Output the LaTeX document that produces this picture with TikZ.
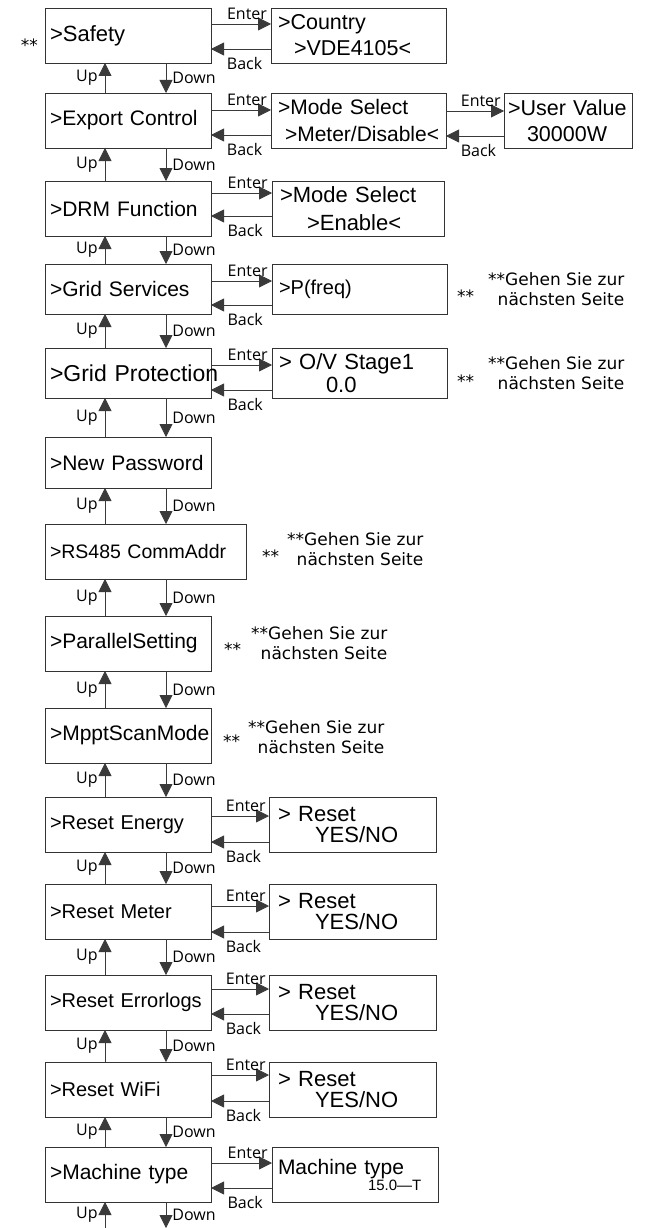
\documentclass[tikz,border=0pt]{standalone}
\usepackage{fontspec}
\setmainfont{Liberation Sans}
\newfontfamily\keyfont{Open Sans}
\newfontfamily\hintfont{DejaVu Sans}
\usetikzlibrary{arrows.meta,positioning}
\definecolor{MenuLine}{HTML}{333333}
\definecolor{KeyLine}{HTML}{3A3A3A}
\hyphenpenalty=10000
\exhyphenpenalty=10000

\begin{document}
\begin{tikzpicture}[x=1pt,y=1pt]
    \tikzset{menu/.style={draw=MenuLine,line width=0.9pt,outer sep=0pt,text width=156pt,inner xsep=5pt,
      minimum height=55pt,align=left,font=\fontsize{21}{25}\selectfont},
      submenu/.style={draw=MenuLine,line width=0.9pt,outer sep=0pt,text width=161pt,inner xsep=7pt,
      minimum height=55pt,align=left,font=\fontsize{22}{26}\selectfont},
      resetbox/.style={submenu,text width=149pt,inner xsep=9pt,font=\fontsize{22}{21}\selectfont},
      key/.style={draw=KeyLine,line width=0.8pt,-{Triangle[length=13pt,width=13pt]}},
      keytext/.style={font=\keyfont\fontsize{16}{18}\selectfont,inner sep=1pt},
      star/.style={font=\hintfont\fontsize{17}{20}\selectfont,inner sep=0pt},
      hint/.style={font=\hintfont\fontsize{17}{20}\selectfont,inner sep=0pt,align=right}}
    \useasboundingbox (0,0) rectangle (650,-1228);
    % settings menu, top to bottom
    \node[menu,anchor=north west,font=\fontsize{22}{25}\selectfont] (safety) at (45,-8) {>Safety};
    \node[menu,below=30pt of safety] (export) {>Export Control};
    \node[menu,below=33pt of export] (drm) {>DRM Function};
    \node[menu,below=28pt of drm,minimum height=50pt] (gridserv) {>Grid Services};
    \node[menu,below=34pt of gridserv,minimum height=50pt,font=\fontsize{23}{25}\selectfont] (gridprot) {\mbox{>Grid Protection}};
    \node[menu,below=39pt of gridprot,minimum height=51pt] (newpass) {>New Password};
    \node[menu,below=36pt of newpass.south west,anchor=north west,text width=191pt,
      font=\fontsize{19.5}{24}\selectfont] (rs485) {\mbox{>RS485 CommAddr}};
    \node[menu,below=37pt of rs485.south west,anchor=north west] (parallel) {>ParallelSetting};
    \node[menu,below=37pt of parallel] (mpptscan) {\mbox{>MpptScanMode}};
    \node[menu,below=34pt of mpptscan,font=\fontsize{20}{24}\selectfont] (reseten) {>Reset Energy};
    \node[menu,below=32pt of reseten,font=\fontsize{20}{24}\selectfont] (resetme) {>Reset Meter};
    \node[menu,below=36pt of resetme,font=\fontsize{20}{24}\selectfont] (reseterr) {>Reset Errorlogs};
    \node[menu,below=32pt of reseterr,font=\fontsize{20}{24}\selectfont] (resetwifi) {>Reset WiFi};
    \node[menu,below=30pt of resetwifi] (machine) {>Machine type};
    \coordinate (menuend) at ([yshift=-26pt]machine.south west);

    % sub pages
    \node[submenu,right=60pt of safety.north east,anchor=north west,font=\fontsize{21.5}{26}\selectfont] (country) {>Country\\\hspace*{16pt}>VDE4105<};
    \node[submenu,right=60pt of export.north east,anchor=north west,font=\fontsize{21}{27}\selectfont] (modeexp) {>Mode Select\\\hspace*{7pt}\mbox{>Meter/Disable<}};
    \node[submenu,right=58pt of modeexp.north east,anchor=north west,text width=120pt,inner xsep=4pt,
      font=\fontsize{21.5}{26}\selectfont] (uservalue) {>User Value\\\hspace*{19pt}30000W};
    \node[submenu,right=61pt of drm.north east,anchor=north west,text width=156pt,inner xsep=8pt,
      font=\fontsize{22}{28}\selectfont] (modedrm) {>Mode Select\\\hspace*{27pt}>Enable<};
    \node[submenu,right=61pt of gridserv.north east,anchor=north west,minimum height=50pt,
      font=\fontsize{20}{24}\selectfont] (pfreq) {>P(freq)};
    \node[submenu,right=61pt of gridprot.north east,anchor=north west,minimum height=50pt,
      font=\fontsize{22}{23}\selectfont] (ovstage) {> O/V Stage1\\\hspace*{47pt}0.0};
    \node[resetbox,right=58pt of reseten.north east,anchor=north west] (yesnoen) {> Reset\\\hspace*{37pt}YES/NO};
    \node[resetbox,right=58pt of resetme.north east,anchor=north west] (yesnome) {> Reset\\\hspace*{37pt}YES/NO};
    \node[resetbox,right=58pt of reseterr.north east,anchor=north west] (yesnoerr) {> Reset\\\hspace*{37pt}YES/NO};
    \node[resetbox,right=58pt of resetwifi.north east,anchor=north west] (yesnowifi) {> Reset\\\hspace*{37pt}YES/NO};
    \node[submenu,right=61pt of machine.north east,anchor=north west,text width=154pt,inner xsep=6pt,
      font=\fontsize{21}{25}\selectfont] (machinesub) {Machine type\\[-9pt]\hspace*{90pt}{\fontsize{15}{16}\selectfont 15.0—T}};

    % next-page remarks
    \node[star,left=7pt of safety,yshift=-9.5pt] (safetystar) {**};
    \node[star,right=10pt of pfreq,yshift=-7.5pt] (pfreqstar) {**};
    \node[star,right=10pt of ovstage,yshift=-8pt] (ovstar) {**};
    \node[star,right=16pt of rs485,yshift=-5pt] (rs485star) {**};
    \node[star,right=13pt of parallel,yshift=-6pt] (parallelstar) {**};
    \node[star,right=12pt of mpptscan,yshift=-6pt] (mpptstar) {**};
    \node[hint,right=41pt of pfreq] (pfreqhint) {**Gehen Sie zur\\nächsten Seite};
    \node[hint,right=41pt of ovstage] (ovhint) {**Gehen Sie zur\\nächsten Seite};
    \node[hint,right=41pt of rs485,yshift=2pt] (rs485hint) {**Gehen Sie zur\\nächsten Seite};
    \node[hint,right=40pt of parallel] (parallelhint) {**Gehen Sie zur\\nächsten Seite};
    \node[hint,right=37pt of mpptscan,yshift=-2pt] (mppthint) {**Gehen Sie zur\\nächsten Seite};

    % Up / Down between menu entries
    \foreach \upper/\lower in {safety/export,export/drm,drm/gridserv,gridserv/gridprot,gridprot/newpass,
        newpass/rs485,rs485/parallel,parallel/mpptscan,mpptscan/reseten,reseten/resetme,
        resetme/reseterr,reseterr/resetwifi,resetwifi/machine}{
      \draw[key] ([xshift=60pt]\lower.north west) -- node[keytext,left=6pt]{Up} ([xshift=60pt]\upper.south west);
      \draw[key] ([xshift=121pt]\upper.south west) -- node[keytext,right=5pt]{Down} ([xshift=121pt]\lower.north west);
    }
    \draw[key] ([xshift=60pt]menuend) -- node[keytext,left=6pt]{Up} ([xshift=60pt]machine.south west);
    \draw[key] ([xshift=121pt]machine.south west) -- node[keytext,right=5pt]{Down} ([xshift=121pt]menuend);

    % Enter / Back into the sub pages
    \foreach \menu/\sub/\ent/\bck in {safety/country/16pt/41pt,export/modeexp/17pt/42pt,modeexp/uservalue/18pt/43pt,
        drm/modedrm/12pt/35pt,gridserv/pfreq/17pt/41pt,gridprot/ovstage/17pt/42pt,reseten/yesnoen/19pt/45pt,
        resetme/yesnome/22pt/48pt,reseterr/yesnoerr/14pt/39pt,resetwifi/yesnowifi/13pt/39pt,machine/machinesub/16pt/41pt}{
      \draw[key] ([yshift=-\ent]\menu.north east) -- node[keytext,above=3pt,pos=0.6]{Enter} ([yshift=-\ent]\sub.north west);
      \draw[key] ([yshift=-\bck]\sub.north west) -- node[keytext,below=7pt,pos=0.44]{Back} ([yshift=-\bck]\menu.north east);
    }
\end{tikzpicture}
\end{document}
